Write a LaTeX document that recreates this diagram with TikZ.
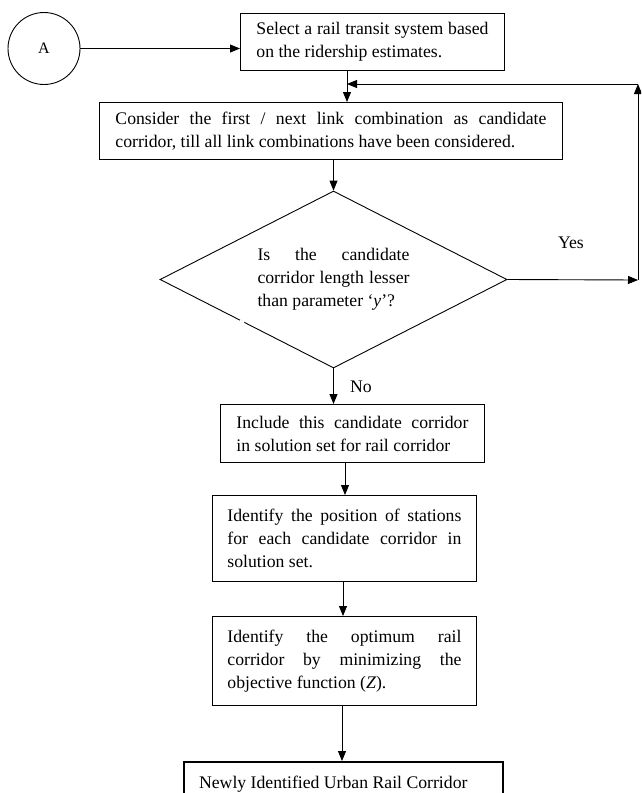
\documentclass[tikz,border=0pt]{standalone}
\usepackage{fontspec}
\setmainfont{Liberation Serif}
\usetikzlibrary{arrows.meta,shapes.geometric,calc}
\newcommand\mynohyph{\hyphenpenalty=10000\relax\exhyphenpenalty=10000\relax\tolerance=10000\relax}
\begin{document}
\begin{tikzpicture}[x=1pt,y=-1pt,
  every node/.style={font=\fontsize{17.7}{23}\selectfont\mynohyph},
  box/.style={draw, line width=0.9pt, rectangle, anchor=north west, inner xsep=16pt, inner ysep=0pt, align=justify},
  arr/.style={draw, line width=0.9pt, -{Triangle[length=10pt,width=8pt]}},
  lbl/.style={inner sep=0pt}]
\clip (0,0) rectangle (641,793);
\fill[white] (0,0) rectangle (641,793);
% nodes
\node[draw, circle, line width=0.9pt, minimum size=72pt, inner sep=0pt, font=\fontsize{16}{19}\selectfont] (A) at (44,48.5) {A};
\node[box, minimum width=264pt, minimum height=57pt, text width=232pt] (b1) at (240,13)
  {Select a rail transit system based\linebreak on the ridership estimates.};
\node[box, minimum width=463pt, minimum height=57pt, text width=431pt, inner xsep=15pt] (b2) at (99,102)
  {Consider the first / next link combination as candidate\linebreak corridor, till all link combinations have been considered.};
\node[draw, diamond, line width=0.9pt, aspect=1.96, minimum width=347pt, minimum height=177pt, inner sep=0pt, text width=152pt, align=justify] (d) at (333.5,279.5)
  {Is the candidate\linebreak corridor length lesser\linebreak than parameter `\textit{y}'?};
\node[box, minimum width=264pt, minimum height=58pt, text width=232pt] (b3) at (220,404)
  {Include this candidate corridor\linebreak in solution set for rail corridor};
\node[box, minimum width=264pt, minimum height=86pt, text width=234pt, inner xsep=15pt] (b4) at (212,495)
  {Identify the position of stations\linebreak for each candidate corridor in\linebreak solution set.};
\node[box, minimum width=264pt, minimum height=89pt, text width=234pt, inner xsep=15pt] (b5) at (212,616)
  {Identify the optimum rail\linebreak corridor by minimizing the\linebreak objective function (\textit{Z}).};
\node[box, line width=2.2pt, minimum width=319pt, minimum height=44pt, text width=289pt, inner xsep=15pt] (b6) at (183,761)
  {Newly Identified Urban Rail Corridor};
\node[lbl] (yes) at (571,243) {Yes};
\node[lbl, anchor=west] (no) at (350,387) {No};
% small break in diamond edge
\draw[white, line width=2.5pt] ($(d.west)!0.462!(d.south)$) -- ($(d.west)!0.486!(d.south)$);
% coordinates
\coordinate (c1) at (347,84);
\coordinate (c2) at (638,84);
\coordinate (c3) at (638,280);
\coordinate (x4) at (345,0);
\coordinate (x5) at (343,0);
\coordinate (x6) at (342,0);
% connectors
\draw[arr] (A.east) -- (A.east -| b1.west);
\draw[arr] (b1.south -| c1) -- (b2.north -| c1);
\draw[arr] (b2.south -| d.north) -- (d.north);
\draw[arr] (d.east) -- (c3);
\draw[arr] (c3) -- (c2);
\draw[arr] (c2) -- (c1);
\draw[arr] (d.south) -- (b3.north -| d.south);
\draw[arr] (b3.south -| x4) -- (b4.north -| x4);
\draw[arr] (b4.south -| x5) -- (b5.north -| x5);
\draw[arr] (b5.south -| x6) -- (b6.north -| x6);
\end{tikzpicture}
\end{document}
